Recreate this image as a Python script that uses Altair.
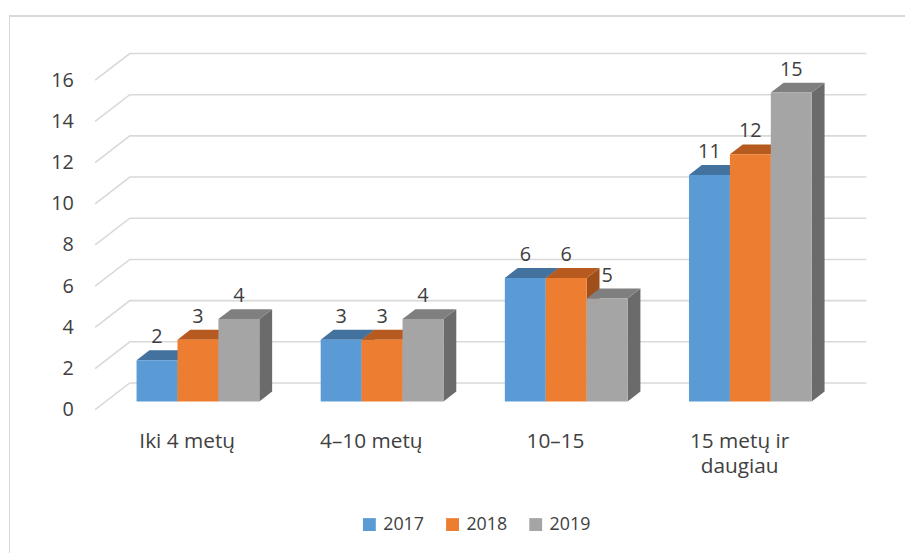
import altair as alt
import pandas as pd

# ---------------- data ----------------
categories = ["Iki 4 metų", "4–10 metų", "10–15", "15 metų ir\ndaugiau"]
years = ["2017", "2018", "2019"]
v2017 = [2, 3, 6, 11]
v2018 = [3, 3, 6, 12]
v2019 = [4, 4, 5, 15]
y_ticks = [0, 2, 4, 6, 8, 10, 12, 14, 16]

front_colors = ["#5B9BD5", "#ED7D31", "#A5A5A5"]
top_colors = ["#43729F", "#B65A1F", "#7F7F7F"]
side_colors = ["#3A638A", "#A04E1A", "#6B6B6B"]

# ---------------- 3D layout constants (in scale units) ----------------
GROUP = 4.5          # bar widths per category (3 bars + gap)
HALF_GAP = 0.75
DEPTH_X = 0.847      # full floor depth, x units
DEPTH_Y = 1.298      # full floor depth, value units
BAR_Z0 = 0.31        # bar front plane (fraction of depth)
BAR_DZ = 0.37        # bar depth (fraction of depth)
X_DOMAIN = [-2.105, 19.792]
Y_DOMAIN = [-6.923, 19.135]
CAT_LABEL_Y = -1.875
W, H = 905, 542
FONT = "Open Sans"
TXT = "#404040"

series = [v2017, v2018, v2019]

xs = alt.Scale(domain=X_DOMAIN, nice=False, zero=False)
ys = alt.Scale(domain=Y_DOMAIN, nice=False, zero=False)
yaxis = alt.Axis(values=y_ticks, ticks=False, tickSize=0, domain=False, grid=False,
                 labelPadding=0, offset=-65, labelFont=FONT, labelFontSize=20,
                 labelColor=TXT, title=None)


def Y(field):
    return alt.Y(field, scale=ys, axis=yaxis, title=None, stack=None)


def X(field):
    return alt.X(field, scale=xs, axis=None, title=None)


# gridlines (floor diagonal + back wall)
grid_rows = []
for t in y_ticks:
    grid_rows.append({"t": t, "k": 0, "x": 0.0, "y": t})
    grid_rows.append({"t": t, "k": 1, "x": DEPTH_X, "y": t + DEPTH_Y})
    grid_rows.append({"t": t, "k": 2, "x": len(categories) * GROUP + DEPTH_X, "y": t + DEPTH_Y})
grid_df = pd.DataFrame(grid_rows)

front_rows, side_rows, top_rows = [], [], []
bdx, bdy = BAR_DZ * DEPTH_X, BAR_DZ * DEPTH_Y
y0 = BAR_Z0 * DEPTH_Y
for g, cat in enumerate(categories):
    for s, yr in enumerate(years):
        v = series[s][g]
        xl = g * GROUP + HALF_GAP + s + BAR_Z0 * DEPTH_X
        xr = xl + 1
        top = y0 + v
        bid = f"{g}-{s}"
        front_rows.append({"year": yr, "xl": xl, "xr": xr, "y0": y0, "top": top,
                           "xc": (xl + xr) / 2, "v": v})
        side_rows += [
            {"id": bid, "k": 0, "x": xr, "lo": y0, "hi": top, "c": side_colors[s]},
            {"id": bid, "k": 1, "x": xr + bdx, "lo": y0 + bdy, "hi": top + bdy, "c": side_colors[s]},
        ]
        top_rows += [
            {"id": bid, "k": 0, "x": xl, "lo": top, "hi": top, "c": top_colors[s]},
            {"id": bid, "k": 1, "x": xl + bdx, "lo": top, "hi": top + bdy, "c": top_colors[s]},
            {"id": bid, "k": 2, "x": xr, "lo": top, "hi": top + bdy, "c": top_colors[s]},
            {"id": bid, "k": 3, "x": xr + bdx, "lo": top + bdy, "hi": top + bdy, "c": top_colors[s]},
        ]
front_df = pd.DataFrame(front_rows)
side_df = pd.DataFrame(side_rows)
top_df = pd.DataFrame(top_rows)
cat_df = pd.DataFrame({"cat": categories,
                       "x": [g * GROUP + GROUP / 2 for g in range(len(categories))],
                       "y": [CAT_LABEL_Y] * len(categories)})

grid = alt.Chart(grid_df).mark_line(color="#D9D9D9", strokeWidth=1.6).encode(
    x=X("x:Q"), y=Y("y:Q"), detail="t:N", order="k:O")

sides = alt.Chart(side_df).mark_area(orient="vertical", opacity=1, interpolate="linear").encode(
    x=X("x:Q"), y=Y("lo:Q"), y2="hi:Q", detail="id:N",
    color=alt.Color("c:N", scale=None))

tops = alt.Chart(top_df).mark_area(orient="vertical", opacity=1, interpolate="linear").encode(
    x=X("x:Q"), y=Y("lo:Q"), y2="hi:Q", detail="id:N",
    color=alt.Color("c:N", scale=None))

fronts = alt.Chart(front_df).mark_rect().encode(
    x=X("xl:Q"), x2="xr:Q", y=Y("y0:Q"), y2="top:Q",
    color=alt.Color("year:N", scale=alt.Scale(domain=years, range=front_colors),
                    legend=alt.Legend(title=None, orient="none", legendX=355, legendY=505,
                                      direction="horizontal", symbolType="square",
                                      symbolSize=169, symbolStrokeWidth=0, symbolOpacity=1,
                                      labelOffset=5, columnPadding=19, padding=0,
                                      labelFont=FONT, labelFontSize=18, labelColor=TXT)))

labels = alt.Chart(front_df).mark_text(font=FONT, fontSize=20, color=TXT, dy=-17,
                                       baseline="alphabetic", align="center").encode(
    x=X("xc:Q"), y=Y("top:Q"), text="v:Q")

cat_text = alt.Chart(cat_df).mark_text(font=FONT, fontSize=21, color=TXT, lineBreak="\n",
                                       lineHeight=25, baseline="alphabetic",
                                       align="center").encode(
    x=X("x:Q"), y=Y("y:Q"), text="cat:N")

border_left = alt.Chart(grid_df).mark_rule(color="#D9D9D9", strokeWidth=1).encode(
    x=alt.value(0.5), y=alt.value(0), y2=alt.value(H))
border_top = alt.Chart(grid_df).mark_rule(color="#D9D9D9", strokeWidth=1).encode(
    y=alt.value(0.5), x=alt.value(0), x2=alt.value(W))

chart = alt.layer(grid, sides, tops, fronts, labels, cat_text, border_left, border_top).properties(
    width=W, height=H, padding={"left": 0, "top": 4, "right": 0, "bottom": 0},
    background="white"
).configure_view(strokeWidth=0)

chart.save("out.html", embed_options={"renderer": "svg", "actions": False})
